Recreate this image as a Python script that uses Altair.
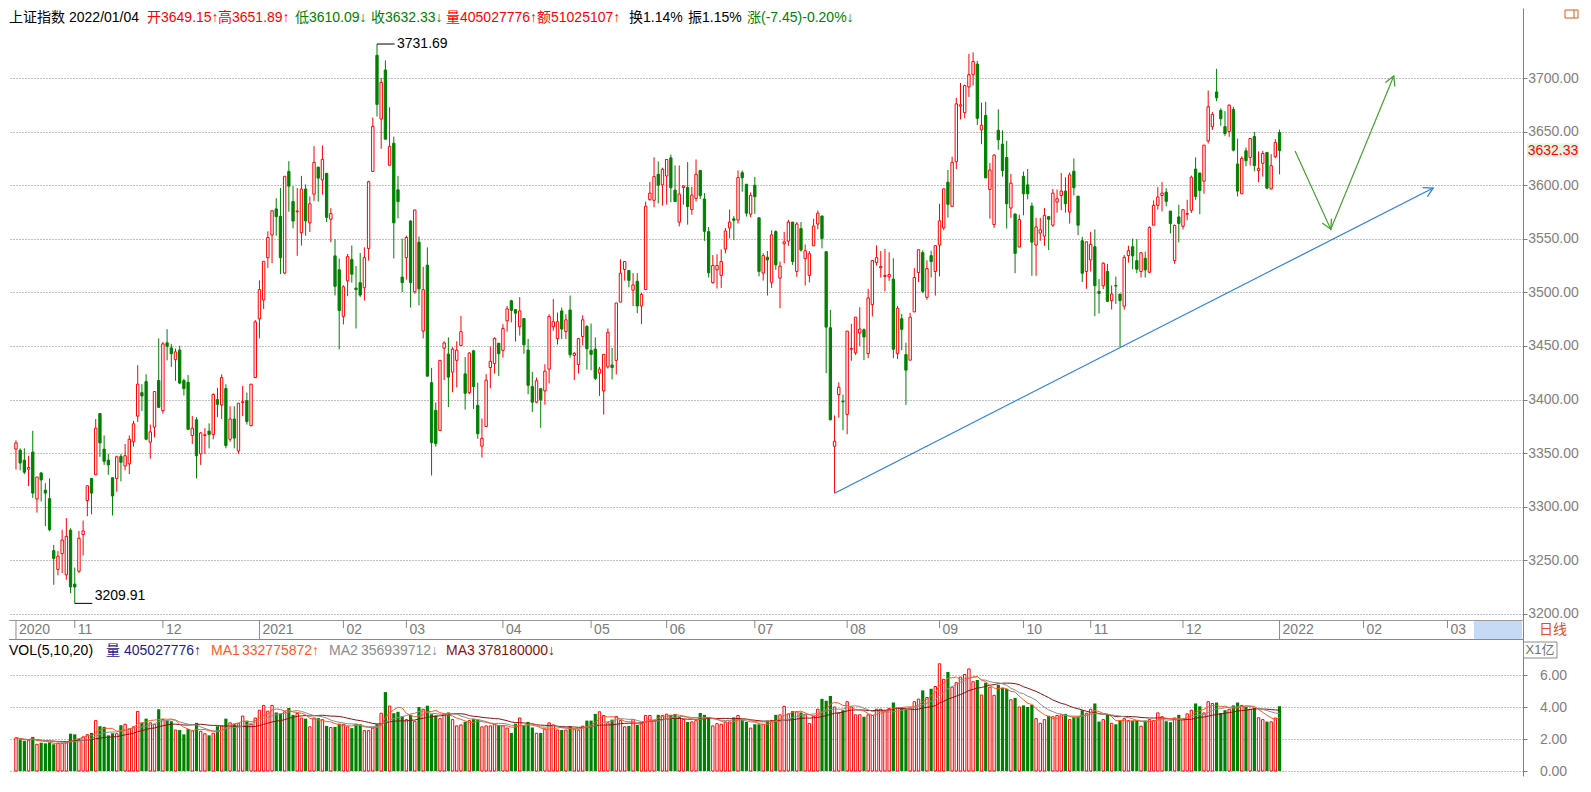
import altair as alt
import pandas as pd

# ---------------- data ----------------
OPEN = [
3353.8,3352.8,3343.5,3335.0,3351.1,3307.3,3331.6,3315.5,3307.6,3259.1,
3241.6,3256.3,3236.5,3278.2,3227.9,3239.9,3274.1,3305.9,3326.5,3329.9,
3387.0,3353.8,3343.5,3327.1,3326.5,3347.0,3338.1,3340.1,3360.7,3384.6,
3406.5,3416.8,3360.3,3374.3,3417.8,3389.7,3453.0,3448.2,3437.3,3446.2,
3417.8,3416.1,3366.5,3381.2,3349.4,3366.5,3370.6,3367.5,3400.0,3394.9,
3410.3,3363.0,3381.9,3352.1,3397.3,3399.0,3375.7,3420.5,3475.3,3493.0,
3532.4,3553.6,3577.9,3571.0,3518.0,3612.8,3584.7,3575.2,3555.7,3596.4,
3564.9,3591.6,3616.9,3604.9,3611.1,3568.3,3534.1,3521.1,3477.7,3510.8,
3530.7,3504.0,3509.1,3504.3,3541.0,3612.8,3721.2,3661.7,3707.5,3618.6,
3639.1,3595.7,3514.3,3532.4,3566.6,3500.6,3546.8,3464.0,3525.4,3415.8,
3390.0,3371.2,3448.0,3442.5,3425.6,3436.6,3450.5,3424.0,3406.5,3445.5,
3394.6,3356.5,3374.9,3429.9,3433.6,3452.6,3445.9,3473.5,3492.2,3483.9,
3468.0,3475.6,3446.2,3412.1,3397.6,3410.2,3408.1,3428.4,3468.0,3456.9,
3482.7,3463.4,3483.6,3441.2,3432.7,3458.8,3468.3,3445.9,3447.1,3424.7,
3408.1,3430.5,3432.3,3436.6,3491.0,3521.4,3520.5,3502.1,3510.4,3487.3,
3502.7,3586.5,3585.9,3610.2,3600.3,3608.6,3625.5,3595.4,3565.6,3597.9,
3597.9,3577.3,3587.7,3613.8,3587.1,3556.7,3509.1,3521.1,3515.9,3540.4,
3560.1,3568.7,3567.5,3611.7,3600.9,3573.0,3600.0,3569.6,3518.0,3532.8,
3509.4,3556.7,3513.4,3545.4,3547.8,3565.6,3519.6,3559.5,3531.5,3515.9,
3543.5,3563.8,3571.3,3538.0,3467.0,3356.5,3404.7,3398.5,3386.2,3447.0,
3443.6,3462.1,3465.2,3442.9,3488.6,3527.8,3522.9,3514.9,3514.6,3512.4,
3442.9,3475.4,3442.0,3436.8,3481.8,3518.5,3537.1,3495.4,3534.3,3519.5,
3544.2,3560.2,3602.8,3580.3,3621.9,3673.8,3667.6,3691.7,3703.0,3713.0,
3651.6,3665.1,3596.0,3563.3,3651.2,3638.3,3625.9,3578.7,3573.2,3542.3,
3608.3,3600.3,3580.6,3544.2,3555.3,3552.5,3570.7,3562.7,3584.3,3590.4,
3594.5,3575.0,3613.0,3589.8,3548.2,3519.5,3530.3,3542.6,3500.9,3506.2,
3519.5,3492.3,3506.5,3498.5,3487.1,3534.3,3542.6,3529.7,3519.5,3531.8,
3518.8,3562.7,3581.2,3590.4,3593.5,3575.9,3529.7,3570.4,3561.7,3572.9,
3576.6,3615.1,3611.4,3603.7,3641.4,3654.6,3687.0,3669.8,3654.6,3650.0,
3670.7,3619.8,3592.0,3632.1,3625.9,3645.4,3613.6,3620.4,3630.6,3596.6,
3626.6,3649.15]
HIGH = [
3362.0,3354.5,3354.5,3347.6,3370.9,3327.8,3332.3,3322.0,3326.5,3264.5,
3258.7,3278.6,3289.5,3280.0,3243.3,3277.5,3287.1,3319.6,3326.5,3381.9,
3387.0,3366.5,3349.4,3327.1,3347.6,3349.4,3358.6,3366.5,3380.2,3432.2,
3414.4,3423.6,3376.7,3407.5,3457.1,3453.7,3465.7,3452.0,3447.6,3450.3,
3419.5,3422.9,3384.6,3383.6,3369.9,3373.3,3377.8,3405.8,3411.0,3423.6,
3414.4,3393.8,3393.8,3396.6,3412.7,3406.5,3414.4,3474.2,3511.2,3529.0,
3557.0,3576.2,3587.8,3597.4,3608.3,3622.4,3599.1,3597.4,3608.7,3600.8,
3589.5,3636.4,3616.9,3637.1,3611.1,3578.6,3549.5,3531.7,3506.7,3535.8,
3543.7,3524.5,3536.8,3542.0,3604.2,3663.1,3731.69,3700.0,3716.4,3672.7,
3645.3,3608.7,3550.2,3552.9,3567.3,3576.9,3552.2,3523.8,3542.0,3429.6,
3397.3,3436.6,3454.5,3458.1,3448.9,3454.5,3478.1,3439.7,3444.3,3446.5,
3415.8,3382.3,3423.7,3449.5,3458.1,3452.6,3470.4,3487.3,3493.1,3483.9,
3495.6,3475.6,3456.6,3425.9,3420.4,3410.2,3433.0,3479.6,3493.8,3481.2,
3485.8,3479.6,3497.1,3444.3,3456.9,3478.7,3469.5,3471.0,3458.1,3430.5,
3442.2,3466.4,3448.3,3490.1,3530.9,3528.8,3520.5,3518.0,3518.0,3499.6,
3584.7,3603.1,3626.1,3622.1,3616.3,3624.0,3628.6,3618.4,3618.4,3600.0,
3621.5,3598.5,3624.0,3613.8,3592.6,3561.0,3534.9,3535.5,3540.1,3560.1,
3577.3,3571.2,3613.8,3613.8,3600.9,3593.3,3607.7,3569.6,3536.5,3538.6,
3557.9,3557.9,3528.8,3556.4,3567.8,3565.6,3565.6,3565.6,3544.7,3538.6,
3568.7,3576.4,3571.3,3538.0,3483.7,3385.2,3416.1,3404.7,3463.9,3470.7,
3476.9,3486.2,3466.4,3503.4,3529.7,3543.9,3538.6,3540.5,3537.4,3531.8,
3487.4,3480.0,3453.1,3480.9,3522.6,3539.8,3539.2,3530.0,3538.9,3543.6,
3582.7,3596.6,3614.2,3626.6,3681.5,3695.4,3693.8,3722.5,3723.9,3716.0,
3676.9,3677.8,3620.7,3629.0,3670.7,3651.2,3641.4,3610.5,3573.2,3572.5,
3612.7,3615.1,3583.7,3569.5,3569.5,3578.7,3570.7,3596.6,3596.0,3611.4,
3607.4,3612.0,3625.0,3589.8,3551.9,3547.2,3556.5,3558.7,3512.4,3528.1,
3526.6,3506.5,3514.8,3498.5,3534.9,3543.5,3550.3,3549.7,3537.4,3538.0,
3561.7,3585.8,3598.2,3602.8,3597.2,3575.9,3563.3,3581.8,3577.2,3586.4,
3609.0,3625.9,3611.4,3637.4,3688.3,3668.2,3708.6,3671.6,3669.1,3675.3,
3673.2,3643.5,3626.9,3635.2,3643.5,3649.7,3631.5,3632.1,3630.6,3629.0,
3642.9,3651.89]
LOW = [
3334.7,3334.0,3330.5,3319.3,3308.3,3294.6,3304.9,3282.0,3277.2,3227.2,
3236.1,3238.2,3232.0,3219.4,3209.91,3238.2,3254.6,3291.2,3293.0,3329.9,
3346.6,3339.1,3329.9,3291.9,3314.1,3323.7,3334.0,3330.6,3356.2,3379.2,
3389.4,3362.0,3344.9,3364.8,3392.1,3387.0,3436.6,3430.5,3417.5,3414.4,
3403.8,3371.6,3358.6,3326.5,3339.1,3349.4,3354.5,3363.0,3383.6,3381.9,
3354.5,3360.7,3354.5,3349.4,3384.6,3376.7,3375.0,3420.5,3457.1,3484.5,
3522.8,3527.3,3552.9,3517.0,3517.0,3575.2,3559.8,3534.1,3543.7,3552.9,
3556.3,3585.4,3584.7,3591.2,3565.6,3546.8,3497.2,3446.9,3470.1,3496.5,
3509.1,3466.4,3495.8,3492.4,3529.7,3612.8,3664.1,3634.0,3642.9,3618.6,
3531.7,3569.0,3500.2,3511.9,3485.9,3498.9,3487.9,3457.1,3421.3,3329.2,
3356.2,3371.2,3418.2,3393.0,3406.9,3411.5,3450.5,3390.6,3405.0,3391.2,
3363.5,3346.0,3374.9,3410.5,3424.4,3421.9,3439.1,3463.4,3472.0,3454.1,
3459.7,3442.8,3405.0,3388.4,3396.7,3373.7,3395.2,3415.1,3464.3,3451.4,
3456.6,3456.6,3439.1,3418.2,3424.4,3450.5,3428.0,3427.4,3418.2,3403.5,
3386.0,3429.0,3418.8,3423.4,3491.0,3511.0,3504.8,3487.3,3480.6,3470.4,
3502.7,3585.6,3579.4,3583.1,3581.0,3581.9,3584.1,3584.7,3561.6,3581.9,
3563.2,3572.4,3584.7,3587.1,3548.1,3514.0,3508.2,3503.6,3504.2,3536.4,
3550.3,3548.7,3564.1,3593.9,3570.8,3570.2,3573.3,3515.0,3511.0,3497.1,
3504.2,3521.1,3485.2,3527.2,3543.5,3525.7,3514.6,3538.0,3506.4,3509.4,
3543.5,3558.9,3541.1,3424.7,3380.6,3312.7,3383.1,3371.4,3367.7,3436.2,
3441.7,3450.0,3436.8,3438.6,3477.5,3525.0,3513.9,3501.0,3510.8,3438.6,
3437.7,3446.0,3395.1,3436.8,3481.8,3509.6,3499.4,3493.2,3513.9,3497.0,
3514.9,3558.1,3569.8,3580.3,3615.1,3661.4,3662.4,3682.4,3693.0,3656.2,
3638.3,3606.8,3568.8,3560.2,3633.0,3608.0,3559.6,3569.5,3517.9,3542.3,
3571.9,3586.8,3515.5,3515.5,3548.2,3543.5,3539.5,3561.1,3574.4,3576.6,
3574.4,3564.2,3590.4,3553.4,3509.6,3503.4,3519.5,3477.8,3480.3,3503.1,
3491.1,3484.0,3489.2,3449.1,3484.0,3527.8,3521.6,3517.9,3513.9,3513.9,
3517.9,3562.7,3577.2,3575.6,3580.3,3555.0,3526.6,3546.6,3558.7,3567.3,
3574.1,3586.4,3572.9,3592.0,3638.9,3651.5,3678.4,3655.3,3646.0,3645.1,
3631.5,3589.5,3592.0,3617.6,3618.2,3613.0,3602.8,3608.0,3596.6,3596.0,
3625.3,3610.09]
CLOSE = [
3359.6,3340.8,3332.3,3336.7,3312.8,3327.8,3325.1,3312.8,3278.6,3251.9,
3253.9,3269.0,3272.4,3225.2,3225.2,3270.7,3277.5,3319.6,3312.8,3373.3,
3359.6,3342.5,3339.1,3310.1,3346.6,3341.5,3347.6,3363.0,3377.4,3414.4,
3403.4,3363.0,3369.9,3407.5,3392.8,3452.0,3449.6,3442.8,3444.5,3415.4,
3410.3,3372.3,3373.3,3347.6,3368.9,3367.2,3367.5,3404.8,3395.6,3420.5,
3357.2,3381.9,3364.1,3396.6,3398.0,3379.5,3414.4,3472.5,3502.6,3529.0,
3551.2,3576.2,3570.7,3532.4,3608.3,3599.1,3566.6,3575.9,3596.4,3566.6,
3582.7,3621.3,3606.6,3624.1,3570.0,3573.5,3505.7,3483.1,3505.2,3533.4,
3517.0,3502.6,3497.5,3532.4,3603.2,3654.9,3675.4,3695.9,3642.9,3636.0,
3564.9,3584.7,3509.1,3551.2,3509.1,3576.9,3503.3,3502.6,3421.9,3359.9,
3358.9,3436.6,3452.9,3421.0,3447.1,3446.2,3463.4,3405.9,3443.4,3412.1,
3368.2,3363.9,3418.2,3435.7,3457.2,3442.8,3466.4,3484.6,3483.3,3480.6,
3482.7,3451.1,3413.3,3397.6,3417.6,3399.8,3426.5,3477.5,3472.6,3472.6,
3465.8,3474.4,3441.9,3443.1,3456.9,3474.4,3447.4,3442.2,3419.8,3428.4,
3442.2,3462.7,3429.9,3490.1,3518.0,3528.8,3511.3,3507.0,3487.3,3498.1,
3580.4,3592.6,3608.0,3600.0,3614.8,3624.0,3597.6,3584.7,3591.7,3599.4,
3580.1,3590.8,3610.2,3590.2,3557.0,3518.3,3525.1,3525.1,3528.8,3557.3,
3565.6,3567.2,3607.1,3606.8,3573.9,3590.5,3589.3,3519.6,3534.3,3530.3,
3553.6,3525.7,3524.5,3547.2,3565.6,3528.8,3563.8,3539.5,3538.9,3536.1,
3561.9,3573.9,3550.3,3467.6,3381.2,3361.2,3411.5,3397.9,3463.9,3447.6,
3476.9,3465.8,3458.4,3494.8,3529.7,3532.4,3524.1,3515.8,3516.7,3447.0,
3485.2,3465.5,3427.5,3476.9,3513.9,3539.8,3501.0,3522.3,3528.7,3543.6,
3566.7,3596.6,3582.1,3621.3,3675.9,3675.0,3692.9,3703.1,3715.4,3662.4,
3655.9,3606.8,3614.2,3628.1,3642.3,3613.6,3582.7,3601.9,3536.4,3567.9,
3592.0,3592.0,3546.9,3561.1,3558.4,3571.9,3568.2,3592.6,3587.4,3594.5,
3582.7,3609.6,3597.6,3562.7,3517.9,3547.2,3544.8,3506.2,3499.1,3527.2,
3491.7,3498.5,3505.9,3492.3,3532.7,3538.9,3534.0,3521.6,3537.0,3521.0,
3560.5,3581.2,3588.9,3592.6,3584.9,3564.2,3562.4,3564.2,3577.2,3573.5,
3607.4,3589.5,3595.1,3637.4,3673.2,3666.1,3681.5,3662.0,3648.2,3674.7,
3632.7,3594.5,3625.0,3622.8,3643.5,3618.2,3615.7,3629.6,3597.2,3618.2,
3639.8,3632.33]
# daily volume in units of 1e8 (X1亿)
VOLUME = [
2.07,1.97,1.89,1.93,2.13,1.67,1.77,1.73,1.79,1.67,
1.73,1.73,1.77,2.33,2.29,1.97,2.13,2.27,2.38,3.15,
2.80,2.76,2.23,2.36,2.33,2.86,2.92,2.62,2.76,3.72,
3.01,3.27,3.01,2.92,3.86,3.21,3.15,3.11,2.56,2.56,
2.29,2.62,2.52,3.01,2.48,2.33,2.23,2.36,2.80,2.82,
3.27,3.01,2.92,2.96,3.43,3.15,2.92,3.31,3.80,4.10,
3.74,4.10,3.66,3.59,3.70,3.94,3.51,3.59,3.31,3.27,
2.76,3.31,3.31,3.21,2.82,2.72,2.76,2.96,2.92,2.76,
2.68,2.96,2.92,2.52,2.52,2.68,2.92,3.61,4.93,4.06,
3.61,3.70,3.41,3.21,3.51,3.11,4.00,3.86,4.08,3.55,
3.47,
3.27,3.57,3.66,3.21,2.82, 2.88,3.07,3.15,3.27,3.21,2.76, 2.82,2.82,2.92,2.88,2.82,
2.68,2.38,2.96,3.31,2.88, 3.07,2.72,2.36,2.38,2.62,3.01, 2.88,2.56,2.56,2.56,2.80,
2.62,2.56,2.80,3.15,3.15,3.57, 3.70,3.47,3.01,3.21,3.41, 3.15,2.76,2.82,3.21,2.88,2.96,
3.47,3.47,3.15,3.51,3.47, 3.55,3.51,3.57,3.35,3.21, 3.07,3.07,3.15,3.63,3.51,3.35,
2.82,2.96,2.92,3.07,3.07,3.35, 3.47,3.21,3.07,2.68,2.92, 2.92,2.92,3.15,3.15,3.51,3.51,
4.04,3.57,3.74,3.70,3.66,3.51, 2.96,3.41,3.86,4.51,4.39, 4.69,4.00,3.61,3.80,4.33,
4.00,3.51,3.51,
3.39,3.51,3.47,3.86,3.86, 3.74,3.90,4.28,3.94,3.98,3.90, 3.94,4.33,4.49,5.04,4.59,
5.14,5.28,6.70,5.73,6.19, 5.24,5.52,5.87,6.03,6.38,5.58, 5.69,4.75,5.52,5.24,4.73,
5.38,5.18,5.14,4.45,4.57, 4.00,4.10,4.00,4.14,3.27, 2.98,3.21,3.45,3.39,3.47,3.51,
3.57,3.21,3.39,3.41,3.80,3.61, 3.86,4.22,3.09,3.21,3.51, 2.98,2.92,3.15,3.27,3.15,
3.15,3.15,2.80,3.15,3.21,3.15, 3.63,3.39,3.11,3.05,3.31, 3.51,3.21,3.57,3.80,4.22,4.04,
3.63,4.33,4.22,4.28,3.63, 3.80,3.86,4.10,4.28,4.10,4.00, 3.86,3.94,3.33,3.21,3.09,3.07,
3.31,4.05]

MONTH_IDX = [0, 14, 35, 58, 78, 93, 116, 137, 155, 176, 198, 220, 240, 256, 278, 301, 321, 341]
MONTH_LABEL = ["2020", "11", "12", "2021", "02", "03", "04", "05", "06", "07", "08",
               "09", "10", "11", "12", "2022", "02", "03"]
PRICE_TICKS = [3200, 3250, 3300, 3350, 3400, 3450, 3500, 3550, 3600, 3650, 3700]
VOL_TICKS = [0, 2, 4, 6]
LAST_PRICE = 3632.33
ANNOT_IDX = [86, 14]
ANNOT_VAL = [3731.69, 3209.91]
BLUE_IDX = [195, 337.6]
BLUE_VAL = [3312.7, 3597.4]
GREEN_IDX = [304.7, 313.2, 328.2]
GREEN_VAL = [3631.9, 3559.0, 3701.9]

HEADER_TEXT = ["上证指数", "2022/01/04", "开3649.15↑", "高3651.89↑", "低3610.09↓", "收3632.33↓",
               "量405027776↑", "额51025107↑", "换1.14%", "振1.15%", "涨(-7.45)-0.20%↓"]
VOL_TEXT = ["VOL(5,10,20)", "量", "405027776↑", "MA1", "332775872↑", "MA2", "356939712↓",
            "MA3", "378180000↓"]

assert len(OPEN) == len(HIGH) == len(LOW) == len(CLOSE) == len(VOLUME) == 302

# ---------------- styles / layout ----------------
RED, GREEN = "#ff0000", "#008000"
BLUE, GREEN2 = "#2a7fe6", "#45a032"
NAVY, ORANGE, GRAYT, MAROON = "#1c1c90", "#ff5a1e", "#8c8c8c", "#8b1010"
AXC = "#808080"
FONT = "Liberation Sans, Arial, Noto Sans CJK SC, DejaVu Sans, sans-serif"
HEADER_COLOR = ["#000000", "#000000", RED, RED, GREEN, GREEN, RED, RED, "#000000", "#000000", GREEN]
HEADER_X = [0, 60, 138, 209, 286, 362, 437, 528, 620, 679, 738]
VOL_COLOR = ["#000000", NAVY, NAVY, ORANGE, ORANGE, GRAYT, GRAYT, MAROON, MAROON]
VOL_X = [0, 97, 115, 202, 233, 320, 352, 437, 469]

W, H1, H2 = 1514, 612, 156
xs = alt.Scale(domain=[-0.47, 357.8], nice=False, zero=False)
ps = alt.Scale(domain=[3194.4, 3765.3], nice=False, zero=False)
vs = alt.Scale(domain=[-0.3125, 9.4375], nice=False, zero=False)


def right_axis(values):
    return alt.Axis(orient="right", values=values, format=".2f", title=None,
                    grid=True, gridColor=AXC, gridDash=[1, 2], gridWidth=1,
                    ticks=True, tickSize=4, tickColor=AXC, domain=True, domainColor=AXC,
                    labelAlign="center", labelBaseline="middle", labelPadding=26,
                    labelFont=FONT, labelFontSize=14, labelColor=AXC,
                    labelOverlap=False, labelFlush=False)


PAX = right_axis(PRICE_TICKS)
VAX = right_axis(VOL_TICKS)
X = alt.X("i:Q", scale=xs, axis=None)
one = pd.DataFrame({"k": [0]})


def text_at(t, color, x, y, size=14, align="left"):
    return alt.Chart(pd.DataFrame({"t": [t]})).mark_text(
        align=align, baseline="middle", fontSize=size, font=FONT, color=color
    ).encode(x=alt.value(x), y=alt.value(y), text="t:N")


df = pd.DataFrame({"i": list(range(len(OPEN))), "o": OPEN, "h": HIGH, "l": LOW,
                   "c": CLOSE, "v": VOLUME})
df["h"] = df[["h", "o", "c"]].max(axis=1)
df["l"] = df[["l", "o", "c"]].min(axis=1)
up = df[df["c"] >= df["o"]]
dn = df[df["c"] < df["o"]]

# ---------------- price panel ----------------
PY = lambda f: alt.Y(f, scale=ps, axis=PAX)
wick_up = alt.Chart(up).mark_rule(color=RED, strokeWidth=1).encode(x=X, y=PY("l:Q"), y2="h")
wick_dn = alt.Chart(dn).mark_rule(color=GREEN, strokeWidth=1).encode(x=X, y=PY("l:Q"), y2="h")
body_up = alt.Chart(up).mark_bar(width=2.4, fill="white", stroke=RED, strokeWidth=1).encode(
    x=X, y=PY("o:Q"), y2="c")
body_dn = alt.Chart(dn).mark_bar(width=2.3, fill=GREEN, stroke=GREEN, strokeWidth=1).encode(
    x=X, y=PY("o:Q"), y2="c")

ann = pd.DataFrame({"i": ANNOT_IDX, "p": ANNOT_VAL, "t": [f"{v:.2f}" for v in ANNOT_VAL]})
ann["i2"] = ann["i"] + 4.2
ann_rule = alt.Chart(ann).mark_rule(color="black", strokeWidth=1).encode(x=X, x2="i2", y=PY("p:Q"))
ann_hi = alt.Chart(ann.iloc[[0]]).mark_text(align="left", baseline="middle", dx=20, fontSize=14,
                                            font=FONT, color="black").encode(x=X, y=PY("p:Q"), text="t:N")
ann_lo = alt.Chart(ann.iloc[[1]]).mark_text(align="left", baseline="middle", dx=20, dy=-7, fontSize=14,
                                            font=FONT, color="black").encode(x=X, y=PY("p:Q"), text="t:N")

blue_df = pd.DataFrame({"i": BLUE_IDX, "p": BLUE_VAL, "k": [0, 1]})
green_df = pd.DataFrame({"i": GREEN_IDX, "p": GREEN_VAL, "k": [0, 1, 2]})
blue_line = alt.Chart(blue_df).mark_line(color=BLUE, strokeWidth=1.2).encode(
    x=X, y=PY("p:Q"), order="k:Q")
green_line = alt.Chart(green_df).mark_line(color=GREEN2, strokeWidth=1.2).encode(
    x=X, y=PY("p:Q"), order="k:Q")
heads = pd.DataFrame({"i": [BLUE_IDX[-1], GREEN_IDX[1], GREEN_IDX[2]],
                      "p": [BLUE_VAL[-1], GREEN_VAL[1], GREEN_VAL[2]],
                      "a": [63, 155, 23], "col": [BLUE, GREEN2, GREEN2]})
arrow_heads = alt.Chart(heads).mark_point(shape="M-0.5,0.9L0,0L0.5,0.9", size=420, filled=False,
                                          strokeWidth=1.3, opacity=1).encode(
    x=X, y=PY("p:Q"), angle=alt.Angle("a:Q", scale=None), color=alt.Color("col:N", scale=None))

lp = pd.DataFrame({"p": [LAST_PRICE], "t": [f"{LAST_PRICE:.2f}"]})
lp_bg = alt.Chart(lp).mark_point(shape="M-1,-0.27L1,-0.27L1,0.27L-1,0.27Z", size=2704, filled=True,
                                 fill="#e4f4e4", strokeWidth=0, opacity=1).encode(
    x=alt.value(W + 30), y=PY("p:Q"))
lp_txt = alt.Chart(lp).mark_text(align="center", baseline="middle", fontSize=14, font=FONT,
                                 color=RED).encode(x=alt.value(W + 30), y=PY("p:Q"), text="t:N")

icon_box = alt.Chart(one).mark_rect(fillOpacity=0, stroke="#e05a10", strokeWidth=1).encode(
    x=alt.value(W + 42), x2=alt.value(W + 55), y=alt.value(2), y2=alt.value(10))
icon_bar = alt.Chart(one).mark_rule(color="#e05a10", strokeWidth=1).encode(
    x=alt.value(W + 51), y=alt.value(2), y2=alt.value(10))

header = [text_at(t, c, x, 10) for t, c, x in zip(HEADER_TEXT, HEADER_COLOR, HEADER_X)]

price = alt.layer(wick_up, wick_dn, body_up, body_dn, ann_rule, ann_hi, ann_lo,
                  blue_line, green_line, arrow_heads, lp_bg, lp_txt, icon_box, icon_bar,
                  *header).properties(width=W, height=H1)

# ---------------- volume panel (with date band on top) ----------------
VY = lambda f: alt.Y(f, scale=vs, axis=VAX)
vol_up = alt.Chart(up).mark_bar(width=2.4, fill="white", stroke=RED, strokeWidth=1).encode(
    x=X, y=VY("v:Q"), y2=alt.datum(0))
vol_dn = alt.Chart(dn).mark_bar(width=3.2, color=GREEN).encode(x=X, y=VY("v:Q"), y2=alt.datum(0))

ma_base = alt.Chart(df).transform_window(
    ma5="mean(v)", frame=[-4, 0], sort=[alt.SortField("i")]
).transform_window(
    ma10="mean(v)", frame=[-9, 0], sort=[alt.SortField("i")]
).transform_window(
    ma20="mean(v)", frame=[-19, 0], sort=[alt.SortField("i")]
)
ma_lines = [ma_base.mark_line(color=c, strokeWidth=1).encode(x=X, y=VY(f"{f}:Q"))
            for f, c in [("ma20", MAROON), ("ma10", GRAYT), ("ma5", ORANGE)]]

months = pd.DataFrame({"i": MONTH_IDX, "t": MONTH_LABEL})
months["year"] = months["t"].str.len() == 4
band_blue = alt.Chart(one).mark_rect(color="#c5dbf5").encode(
    x=alt.value(W - 49), x2=alt.value(W - 1), y=alt.value(1), y2=alt.value(19))
band_top = alt.Chart(one).mark_rule(color="#9a9a9a", strokeWidth=1).encode(
    x=alt.value(0), x2=alt.value(W), y=alt.value(0.5))
band_bot = alt.Chart(one).mark_rule(color="#8a8a8a", strokeWidth=1.2).encode(
    x=alt.value(0), x2=alt.value(W), y=alt.value(19.5))
tick_m = alt.Chart(months[~months["year"]]).mark_rule(color="#8a8a8a", strokeWidth=1).encode(
    x=X, y=alt.value(0), y2=alt.value(8))
tick_y = alt.Chart(months[months["year"]]).mark_rule(color="#8a8a8a", strokeWidth=1).encode(
    x=X, y=alt.value(0), y2=alt.value(19))
month_lab = alt.Chart(months).mark_text(align="left", baseline="middle", dx=3, fontSize=14,
                                        font=FONT, color="#7a7a7a").encode(
    x=X, y=alt.value(10), text="t:N")

rixian = text_at("日线", "#e0501e", W + 30, 10, size=14, align="center")
x1_box = alt.Chart(one).mark_rect(fillOpacity=0, stroke="#8a8a8a", strokeWidth=1).encode(
    x=alt.value(W + 0.5), x2=alt.value(W + 34), y=alt.value(22), y2=alt.value(38))
x1_txt = text_at("X1亿", "#707070", W + 17, 30, size=13, align="center")

vol_header = [text_at(t, c, x, 31) for t, c, x in zip(VOL_TEXT, VOL_COLOR, VOL_X)]

volume = alt.layer(vol_up, vol_dn, *ma_lines, band_blue, band_top, band_bot, tick_m, tick_y,
                   month_lab, rixian, x1_box, x1_txt, *vol_header).properties(width=W, height=H2)

chart = alt.vconcat(price, volume, spacing=0, bounds="flush", padding=0).configure_view(
    strokeWidth=0)

chart.save("out.html", embed_options={"renderer": "svg", "actions": False})
